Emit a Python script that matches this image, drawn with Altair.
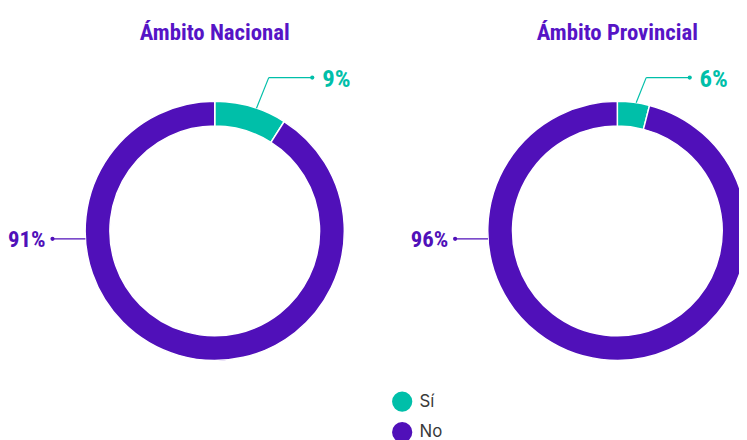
import math
import altair as alt
import pandas as pd

# ---- data ----
charts = ["Ámbito Nacional", "Ámbito Provincial"]
categories = ["Sí", "No"]
si_share = [9, 4]        # teal slice size as drawn
no_share = [91, 96]
si_text = ["9%", "6%"]   # labels as printed
no_text = ["91%", "96%"]

# ---- style / layout ----
TEAL = "#00BFA9"
PURPLE = "#5010B9"
TITLE_COLOR = "#5614C6"
W, H = 739, 432
CX = [209, 616]
CY = 223
R_OUT, R_IN = 131, 106
FONT_C = "'Roboto Condensed', 'Open Sans Condensed', 'DejaVu Sans Condensed', sans-serif"

arc_rows, seg_rows, dot_rows, lab_rows, title_rows = [], [], [], [], []
for i, name in enumerate(charts):
    cx = CX[i]
    total = si_share[i] + no_share[i]
    f = si_share[i] / total
    arc_rows.append(dict(chart=name, cat="Sí", cx=cx, cy=CY, t0=0.0, t1=f))
    arc_rows.append(dict(chart=name, cat="No", cx=cx, cy=CY, t0=f, t1=1.0))
    title_rows.append(dict(chart=name, tx=cx, ty=30))

    a = 2 * math.pi * f * 0.58
    ax = cx + R_OUT * math.sin(a)
    ay = CY - R_OUT * math.cos(a)
    ky = CY - 155
    kx = ax + 0.4 * (ay - ky)
    dx = kx + 44
    seg_rows.append(dict(cat="Sí", x=ax, y=ay, x2=kx, y2=ky))
    seg_rows.append(dict(cat="Sí", x=kx, y=ky, x2=dx, y2=ky))
    dot_rows.append(dict(cat="Sí", x=dx, y=ky))
    lab_rows.append(dict(cat="Sí", x=dx + 10, y=ky + 1.5, text=si_text[i], align="left"))

    ny = CY + 8
    nx1 = cx - math.sqrt(R_OUT ** 2 - 64)
    nx2 = cx - 164
    seg_rows.append(dict(cat="No", x=nx1, y=ny, x2=nx2, y2=ny))
    dot_rows.append(dict(cat="No", x=nx2, y=ny))
    lab_rows.append(dict(cat="No", x=nx2 - 7, y=ny + 1, text=no_text[i], align="right"))

arcs = pd.DataFrame(arc_rows)
segs = pd.DataFrame(seg_rows)
dots = pd.DataFrame(dot_rows)
labs = pd.DataFrame(lab_rows)
titles = pd.DataFrame(title_rows)

xs = alt.Scale(domain=[0, W], range=[0, W], nice=False, zero=False)
ys = alt.Scale(domain=[0, H], range=[0, H], nice=False, zero=False)
cs = alt.Scale(domain=categories, range=[TEAL, PURPLE])

arc = alt.Chart(arcs).mark_arc(
    radius=R_OUT, radius2=R_IN, stroke="white", strokeWidth=1.5, clip=True
).encode(
    x=alt.X("cx:Q", scale=xs, axis=None),
    y=alt.Y("cy:Q", scale=ys, axis=None),
    theta=alt.Theta("t0:Q", scale=alt.Scale(domain=[0, 1], range=[0, 2 * math.pi]), stack=None),
    theta2="t1:Q",
    color=alt.Color(
        "cat:N", scale=cs,
        legend=alt.Legend(
            title=None, orient="none", legendX=388, legendY=385, direction="vertical",
            symbolType="circle", symbolSize=420, symbolStrokeWidth=0,
            labelFontSize=17, labelFont="Inter", labelColor="#3a3a3a",
            labelOffset=7, rowPadding=10, padding=0,
        ),
    ),
)

rule = alt.Chart(segs).mark_rule(strokeWidth=1.2).encode(
    x=alt.X("x:Q", scale=xs, axis=None),
    y=alt.Y("y:Q", scale=ys, axis=None),
    x2="x2:Q", y2="y2:Q",
    color=alt.Color("cat:N", scale=cs, legend=None),
)

dot = alt.Chart(dots).mark_circle(size=18, opacity=1).encode(
    x=alt.X("x:Q", scale=xs, axis=None),
    y=alt.Y("y:Q", scale=ys, axis=None),
    color=alt.Color("cat:N", scale=cs, legend=None),
)

lab_si = alt.Chart(labs[labs["align"] == "left"]).mark_text(
    align="left", baseline="middle", font=FONT_C, fontSize=25, fontWeight="bold"
).encode(
    x=alt.X("x:Q", scale=xs, axis=None),
    y=alt.Y("y:Q", scale=ys, axis=None),
    text="text:N",
    color=alt.Color("cat:N", scale=cs, legend=None),
)

lab_no = alt.Chart(labs[labs["align"] == "right"]).mark_text(
    align="right", baseline="middle", font=FONT_C, fontSize=23, fontWeight="bold"
).encode(
    x=alt.X("x:Q", scale=xs, axis=None),
    y=alt.Y("y:Q", scale=ys, axis=None),
    text="text:N",
    color=alt.Color("cat:N", scale=cs, legend=None),
)

ttl = alt.Chart(titles).mark_text(
    align="center", baseline="alphabetic", font=FONT_C, fontSize=23,
    fontWeight="bold", color=TITLE_COLOR
).encode(
    x=alt.X("tx:Q", scale=xs, axis=None),
    y=alt.Y("ty:Q", scale=ys, axis=None),
    text="chart:N",
)

chart = alt.layer(arc, rule, dot, lab_si, lab_no, ttl).resolve_legend(
    color="independent"
).properties(
    width=W, height=H, autosize=alt.AutoSizeParams(type="none"), padding=0
).configure_view(stroke=None)

chart.save("out.html", embed_options={"renderer": "svg", "actions": False})
